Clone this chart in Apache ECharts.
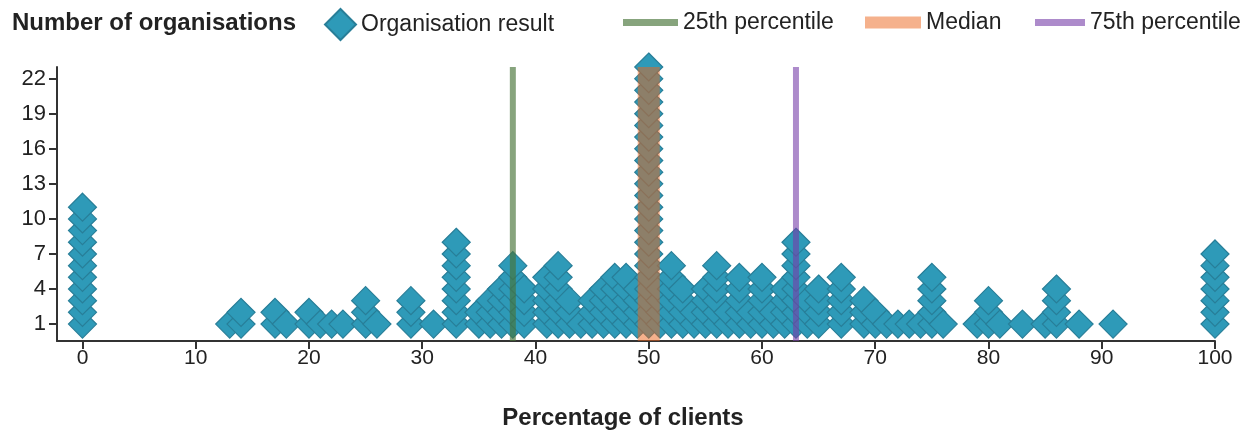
<!DOCTYPE html>
<html>
<head>
<meta charset="utf-8">
<script src="https://cdn.jsdelivr.net/npm/echarts@6/dist/echarts.min.js"></script>
<style>
  html, body { margin: 0; padding: 0; background: #ffffff; }
  #chart { width: 1258px; height: 433px; }
</style>
</head>
<body>
<div id="chart"></div>
<script>
// Percentage of clients (x) and how many organisations scored it
const percentages = [0, 13, 14, 17, 18, 20, 21, 22, 23, 25, 26, 29, 31, 33, 35, 36, 37, 38, 39, 41,
  42, 43, 44, 45, 46, 47, 48, 49, 50, 51, 52, 53, 54, 55, 56, 57, 58, 59, 60, 61,
  62, 63, 64, 65, 67, 69, 70, 71, 72, 73, 74, 75, 76, 79, 80, 81, 83, 85, 86, 88,
  91, 100];
const organisationCounts = [11, 1, 2, 2, 1, 2, 1, 1, 1, 3, 1, 3, 1, 8, 2, 3, 4, 6, 4, 5,
  6, 3, 1, 3, 4, 5, 5, 4, 23, 4, 6, 4, 2, 4, 6, 2, 5, 2, 5, 2,
  4, 8, 3, 4, 5, 3, 2, 1, 1, 1, 1, 5, 1, 1, 3, 1, 1, 1, 4, 1,
  1, 7];

// Percentile markers
const percentile25 = 38;
const percentileMedian = 50;
const percentile75 = 63;

// Tick labels
const xTicks = [0, 10, 20, 30, 40, 50, 60, 70, 80, 90, 100];
const yTicks = [1, 4, 7, 10, 13, 16, 19, 22];

// Axis extents
const X_MIN = -2.25, X_MAX = 100;
const Y_MIN = -0.45, Y_MAX = 23;

// One diamond per organisation, stacked upwards in each column
const points = [];
percentages.forEach((p, i) => {
  for (let r = 1; r <= organisationCounts[i]; r++) points.push([p, r]);
});

const FONT = '"Liberation Sans", Arial, sans-serif';
const INK = '#222222';
const AXIS = '#333333';

const C25 = 'rgba(70, 115, 55, 0.65)';
const CMED = 'rgba(236, 100, 25, 0.5)';
const C75 = 'rgba(118, 62, 168, 0.6)';

function vline(name, x, color, width) {
  return {
    name: name,
    type: 'line',
    data: [[x, Y_MIN], [x, Y_MAX]],
    symbol: 'none',
    silent: true,
    color: color,
    itemStyle: { color: color },
    lineStyle: { color: color, width: width, cap: 'butt' },
    z: 5
  };
}

const legendText = { fontSize: 23, color: INK, fontFamily: FONT };

const chart = echarts.init(document.getElementById('chart'));
chart.setOption({
  animation: false,
  backgroundColor: '#ffffff',
  textStyle: { fontFamily: FONT },
  title: {
    text: 'Number of organisations',
    left: 7, top: 6,
    textStyle: { fontSize: 24, fontWeight: 'bold', color: INK, fontFamily: FONT }
  },
  legend: [
    { data: ['Organisation result'], left: 319, top: 3, icon: 'diamond', itemWidth: 31, itemHeight: 31,
      itemGap: 0, textStyle: legendText, selectedMode: false },
    { data: ['25th percentile'], left: 618, top: 6, icon: 'rect', itemWidth: 55, itemHeight: 7,
      textStyle: legendText, selectedMode: false },
    { data: ['Median'], left: 860, top: 6, icon: 'rect', itemWidth: 56, itemHeight: 12,
      textStyle: legendText, selectedMode: false },
    { data: ['75th percentile'], left: 1030, top: 6, icon: 'rect', itemWidth: 50, itemHeight: 7,
      textStyle: legendText, selectedMode: false }
  ],
  grid: { left: 57, right: 43, top: 67, bottom: 92, outerBoundsMode: 'none', containLabel: false },
  xAxis: {
    type: 'value', min: X_MIN, max: X_MAX,
    axisLine: { show: true, onZero: false, lineStyle: { color: AXIS, width: 2 } },
    axisTick: { show: true, customValues: xTicks, length: 8, lineStyle: { color: AXIS, width: 2 } },
    axisLabel: { customValues: xTicks, fontSize: 21, color: INK, margin: 7, fontFamily: FONT },
    splitLine: { show: false },
    name: 'Percentage of clients', nameLocation: 'middle', nameGap: 65,
    nameTextStyle: { fontSize: 24, fontWeight: 'bold', color: INK, fontFamily: FONT,
      padding: [0, 26, 0, 0] }
  },
  yAxis: {
    type: 'value', min: Y_MIN, max: Y_MAX,
    axisLine: { show: true, onZero: false, lineStyle: { color: AXIS, width: 2 } },
    axisTick: { show: true, customValues: yTicks, length: 8, lineStyle: { color: AXIS, width: 2 } },
    axisLabel: { customValues: yTicks, fontSize: 22, color: INK, margin: 11, fontFamily: FONT },
    splitLine: { show: false }
  },
  series: [
    {
      name: 'Organisation result',
      type: 'scatter',
      data: points,
      symbol: 'diamond',
      symbolSize: 28,
      clip: false,
      itemStyle: { color: '#2E9AB8', borderColor: '#287E98', borderWidth: 1.2, opacity: 1 },
      z: 2
    },
    vline('25th percentile', percentile25, C25, 6),
    vline('Median', percentileMedian, CMED, 22),
    vline('75th percentile', percentile75, C75, 6)
  ]
});
</script>
</body>
</html>
